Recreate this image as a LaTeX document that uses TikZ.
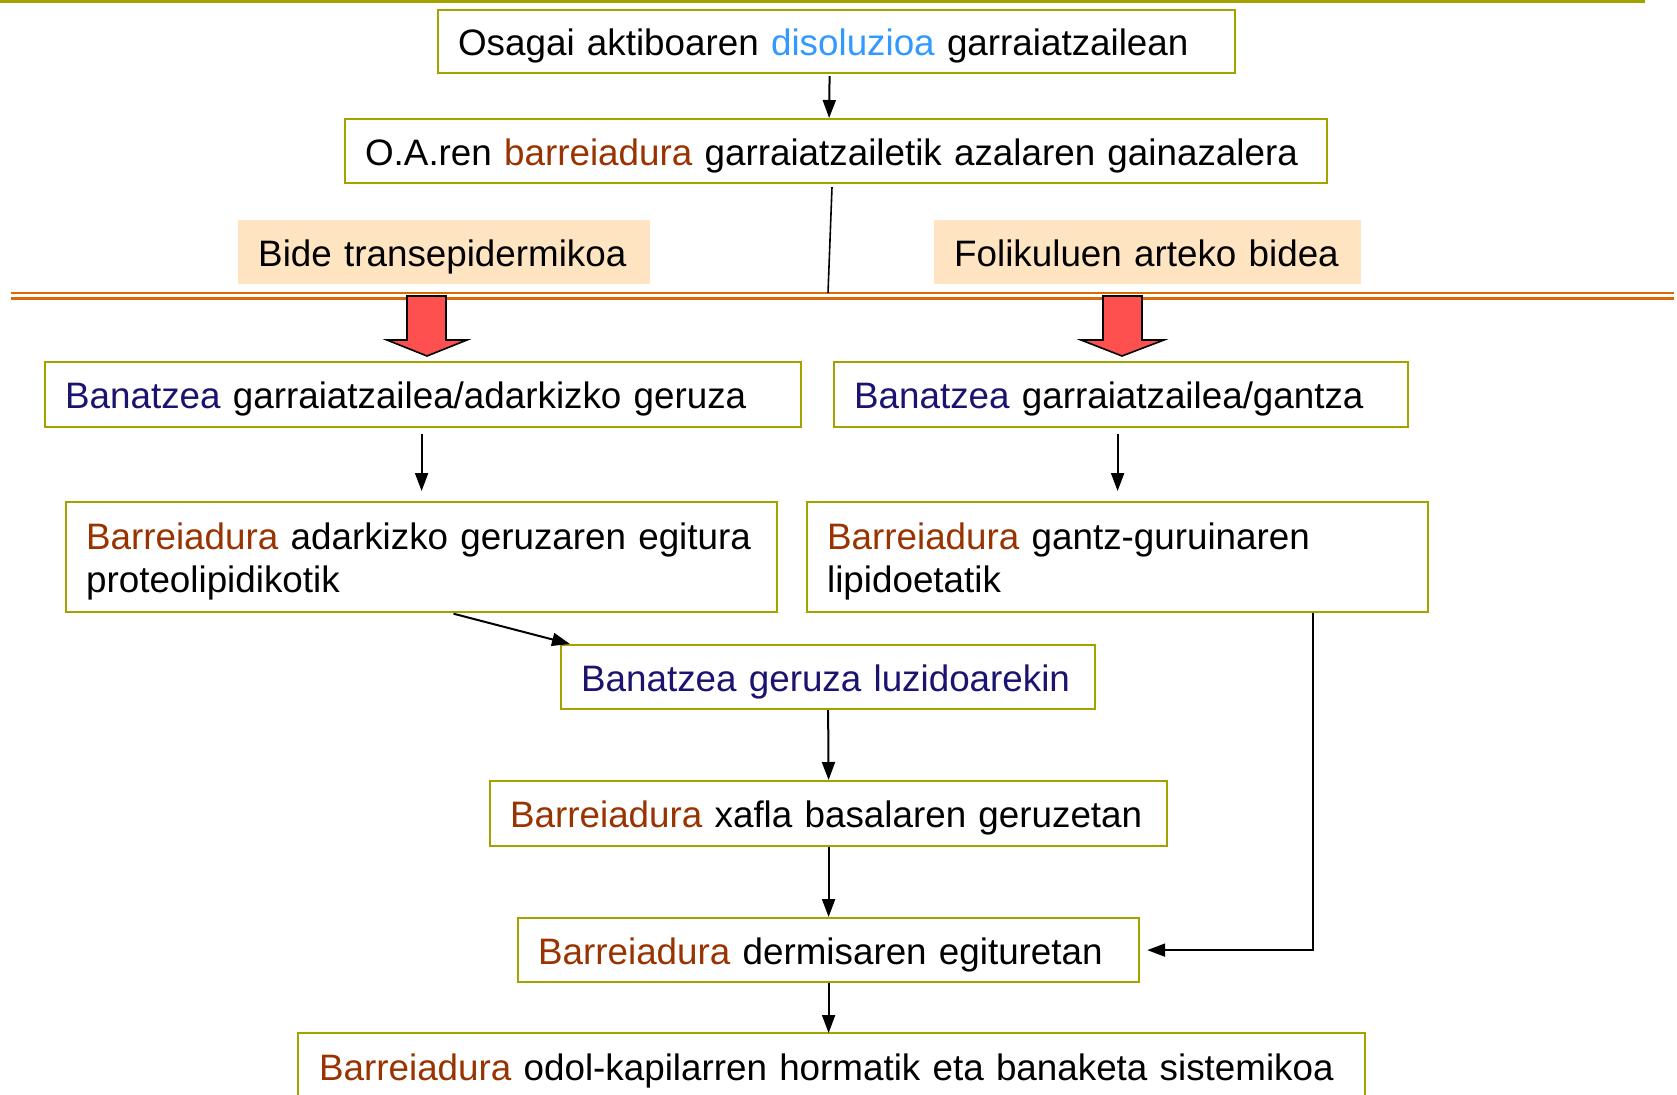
\documentclass[tikz,border=0pt]{standalone}
\usepackage{fontspec}
\setmainfont{Liberation Sans}
\usetikzlibrary{arrows.meta,calc}
\definecolor{olivebox}{HTML}{A3A300}
\definecolor{cblue}{HTML}{3399FF}
\definecolor{cbrown}{HTML}{993300}
\definecolor{cnavy}{HTML}{1A1470}
\definecolor{peach}{HTML}{FFE4C2}
\definecolor{orangeline}{HTML}{D96A08}
\definecolor{redarrow}{HTML}{FF5050}
\newcommand{\topstrut}{\rule{0pt}{38pt}}
\newcommand{\botstrut}{\rule[-10pt]{0pt}{10pt}}
\tikzset{
  txt/.style={inner xsep=20pt, inner ysep=0pt, align=left, anchor=north west,
    font=\fontsize{36.8}{43}\selectfont,
    execute at begin node=\topstrut, execute at end node=\botstrut},
  box/.style={txt, draw=olivebox, line width=2.2pt, fill=white},
  lab/.style={txt, fill=peach},
  arr/.style={line width=2pt, -{Triangle[length=18pt,width=13pt]}},
  redarr/.style={fill=redarrow, draw=black, line width=1.6pt, line join=miter},
  dbl/.style={orangeline, line width=2.6pt}
}
\newcommand{\bl}[1]{\textcolor{cblue}{#1}}
\newcommand{\br}[1]{\textcolor{cbrown}{#1}}
\newcommand{\nv}[1]{\textcolor{cnavy}{#1}}
\begin{document}
\begin{tikzpicture}[x=1pt,y=-1pt]
\useasboundingbox (0,0) rectangle (1677,1094);
% top rule
\draw[olivebox, line width=3.5pt] (0,1.5) -- (1645,1.5);
% boxes
\node[box, text width=757pt, minimum height=63pt] (b1) at (437,9) {Osagai aktiboaren \bl{disoluzioa} garraiatzailean};
\node[box, text width=942pt, minimum height=64pt] (b2) at (344,118) {O.A.ren \br{barreiadura} garraiatzailetik azalaren gainazalera};
\node[lab, text width=372pt, minimum height=64pt] (l1) at (238,220) {Bide transepidermikoa};
\node[lab, text width=387pt, minimum height=64pt] (l2) at (934,220) {Folikuluen arteko bidea};
% double orange line
\coordinate (dl) at (828,293);
\draw[dbl] (11,293) -- (1674,293);
\draw[dbl] (11,298.5) -- (1674,298.5);
\node[box, text width=716pt, minimum height=65pt] (b2l) at (44,361) {\nv{Banatzea} garraiatzailea/adarkizko geruza};
\node[box, text width=534pt, minimum height=65pt] (b2r) at (833,361) {\nv{Banatzea} garraiatzailea/gantza};
\node[box, text width=671pt, minimum height=110pt] (b3l) at (65,501) {\br{Barreiadura} adarkizko geruzaren egitura\\proteolipidikotik};
\node[box, text width=581pt, minimum height=110pt] (b3r) at (806,501) {\br{Barreiadura} gantz-guruinaren\\lipidoetatik};
\node[box, text width=494pt, minimum height=64pt] (luz) at (560,644) {\nv{Banatzea geruza luzidoarekin}};
\node[box, text width=637pt, minimum height=65pt] (xaf) at (489,780) {\br{Barreiadura} xafla basalaren geruzetan};
\node[box, text width=581pt, minimum height=64pt] (derm) at (517,917) {\br{Barreiadura} dermisaren egituretan};
\node[box, draw=none, text width=1025pt, minimum height=64pt] (bot) at (298,1033) {\br{Barreiadura} odol-kapilarren hormatik eta banaketa sistemikoa};
\draw[olivebox, line width=2.2pt] ($(bot.south west)+(0,40)$) |- (bot.north east) -- ($(bot.south east)+(0,40)$);
% red block arrows
\draw[redarr] (407,296) -- (446,296) -- (446,340) -- (467,340) -- (427,356) -- (387,340) -- (407,340) -- cycle;
\draw[redarr] (1103,296) -- (1142,296) -- (1142,340) -- (1164,340) -- (1122,356) -- (1081,340) -- (1103,340) -- cycle;
% connectors
\draw[arr, shorten <=2pt] ([xshift=-7pt]b1.south) -- ([xshift=-7pt]b2.north);
\draw[line width=1.6pt, shorten <=3pt] ([xshift=-4pt]b2.south) -- (dl);
\draw[arr, shorten <=6pt, shorten >=10pt] (b2l.south -| b3l.north) -- (b3l.north);
\draw[arr, shorten <=6pt, shorten >=10pt] (b2r.south -| b3r.north) -- (b3r.north);
\draw[arr, shorten <=2pt] ([xshift=30pt]b3l.south) -- ([xshift=10pt]luz.north west);
\draw[arr] (luz.south) -- (xaf.north);
\draw[arr] (xaf.south) -- (derm.north);
\draw[arr] (derm.south) -- (derm.south |- bot.north);
\draw[arr] ([xshift=-116pt]b3r.south east) |- ([xshift=7pt]derm.east);
\end{tikzpicture}
\end{document}
